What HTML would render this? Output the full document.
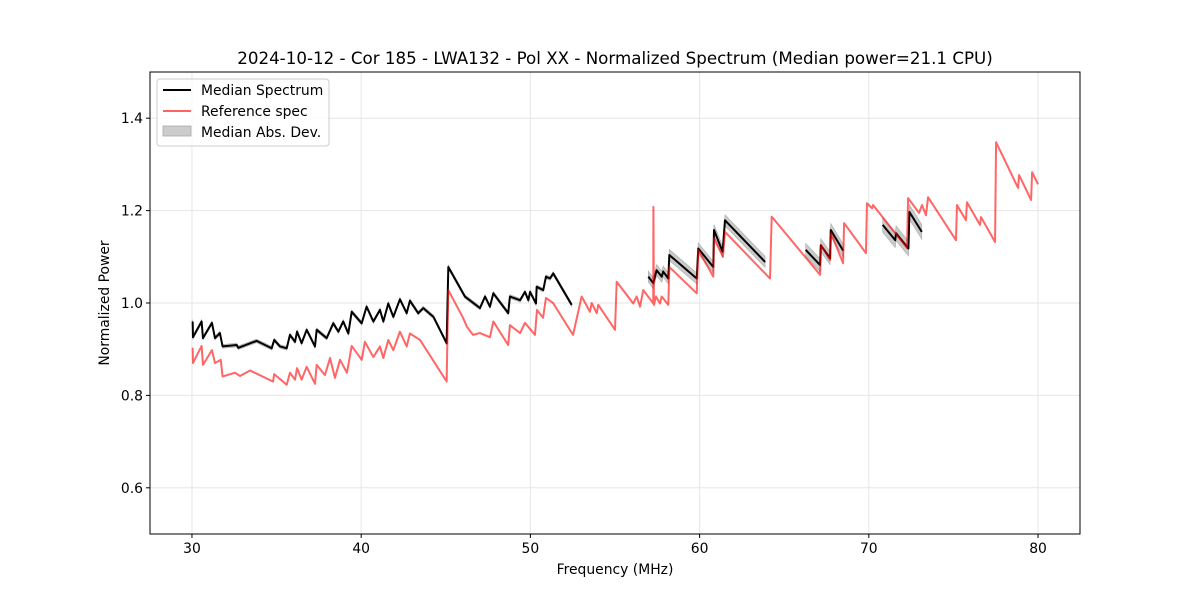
<!DOCTYPE html>
<html><head><meta charset="utf-8"><style>
body{margin:0;background:#fff;}
svg{display:block;font-family:"DejaVu Sans","Liberation Sans",sans-serif;}
</style></head><body>
<svg id="chart" width="1200" height="600" viewBox="0 0 1200 600" xmlns="http://www.w3.org/2000/svg">
<rect x="0" y="0" width="1200" height="600" fill="#fff"/>
<text x="615" y="64" font-size="16.7" text-anchor="middle" fill="#000">2024-10-12 - Cor 185 - LWA132 - Pol XX - Normalized Spectrum (Median power=21.1 CPU)</text>
<g id="grid"></g>
<g id="plot"></g>
<rect x="150" y="72" width="930" height="462" fill="none" stroke="#000" stroke-width="1"/>
<g id="xticks"></g>
<g id="yticks"></g>
<text x="615" y="574" font-size="13.9" text-anchor="middle">Frequency (MHz)</text>
<text transform="translate(109,303) rotate(-90)" font-size="13.9" text-anchor="middle">Normalized Power</text>
<g>
<rect x="157" y="79" width="172" height="67" rx="3" fill="#fff" fill-opacity="0.8" stroke="#ccc"/>
<line x1="163" y1="90" x2="191" y2="90" stroke="#000" stroke-width="2"/>
<text x="201" y="95" font-size="13.9">Median Spectrum</text>
<line x1="163" y1="111" x2="191" y2="111" stroke="#ff6262" stroke-width="2"/>
<text x="201" y="116" font-size="13.9">Reference spec</text>
<rect x="163" y="126" width="28" height="10" fill="#cccccc" stroke="#aaa" stroke-width="0.8"/>
<text x="201" y="137" font-size="13.9">Median Abs. Dev.</text>
</g>
</svg>
<script>
const xTicks=[30,40,50,60,70,80];
const yTicks=[0.6,0.8,1.0,1.2,1.4];
const yTickLabels=["0.6","0.8","1.0","1.2","1.4"];
const refFreq=[30.04,30.06,30.57,30.65,31.18,31.36,31.70,31.81,32.54,32.84,33.43,34.79,34.86,35.60,35.79,36.09,36.21,36.48,36.78,37.27,37.37,37.86,38.16,38.45,38.75,39.16,39.44,40.03,40.22,40.72,41.11,41.31,41.60,41.90,42.29,42.69,42.88,43.48,45.05,45.15,46.02,46.24,46.61,47.02,47.61,47.81,48.69,48.79,49.39,49.68,50.27,50.39,50.75,50.92,51.34,52.52,53.03,53.52,53.62,53.92,54.01,55.00,55.10,56.08,56.28,56.48,56.67,57.26,57.27,57.30,57.42,57.66,57.76,58.15,58.21,59.83,59.92,60.81,60.85,61.38,61.50,64.16,64.26,67.12,67.18,67.71,67.77,68.48,68.54,69.83,69.89,70.19,70.25,72.26,72.32,72.97,73.14,73.38,73.50,75.15,75.21,75.74,75.80,76.57,76.63,77.46,77.52,78.82,78.88,79.59,79.65,80.00];
const refVals=[0.903,0.870,0.907,0.866,0.898,0.870,0.877,0.841,0.849,0.842,0.854,0.830,0.846,0.823,0.849,0.834,0.859,0.834,0.862,0.825,0.866,0.844,0.881,0.838,0.877,0.849,0.907,0.877,0.916,0.883,0.906,0.881,0.920,0.898,0.938,0.906,0.934,0.920,0.830,1.028,0.968,0.949,0.931,0.935,0.926,0.960,0.909,0.952,0.935,0.957,0.931,0.985,0.968,1.011,1.000,0.931,1.014,0.981,1.000,0.978,0.996,0.942,1.046,0.999,1.014,0.992,1.028,0.999,1.208,0.996,1.014,0.999,1.014,0.996,1.078,1.021,1.115,1.057,1.140,1.100,1.154,1.053,1.187,1.061,1.125,1.093,1.151,1.086,1.173,1.108,1.216,1.205,1.212,1.119,1.227,1.195,1.212,1.190,1.229,1.136,1.212,1.179,1.218,1.169,1.186,1.132,1.348,1.249,1.277,1.223,1.283,1.257];
const medFreq1=[30.04,30.06,30.57,30.65,31.18,31.36,31.65,31.81,32.64,32.74,33.82,34.71,34.86,35.20,35.60,35.79,36.09,36.21,36.48,36.78,37.27,37.37,37.96,38.35,38.65,38.94,39.24,39.44,40.03,40.32,40.72,41.11,41.31,41.60,41.90,42.29,42.69,42.88,43.37,43.67,44.27,45.05,45.15,46.13,47.02,47.32,47.61,47.81,48.69,48.79,49.39,49.68,49.88,49.98,50.33,50.37,50.76,50.92,51.16,51.35,52.44];
const medVals1=[0.960,0.926,0.960,0.924,0.957,0.924,0.935,0.906,0.909,0.903,0.918,0.902,0.920,0.906,0.902,0.931,0.916,0.938,0.913,0.942,0.906,0.942,0.924,0.956,0.938,0.960,0.934,0.981,0.956,0.992,0.960,0.985,0.960,0.999,0.970,1.008,0.978,1.005,0.978,0.989,0.970,0.913,1.078,1.014,0.989,1.014,0.992,1.021,0.978,1.014,1.006,1.024,1.006,1.024,0.999,1.035,1.028,1.057,1.053,1.064,0.996];
const medFreq2=[56.97,57.26,57.46,57.76,57.85,58.15,58.21,59.83,59.92,60.81,60.85,61.36,61.50,63.87];
const medVals2=[1.057,1.043,1.071,1.057,1.068,1.053,1.104,1.053,1.118,1.078,1.158,1.111,1.179,1.089];
const medFreq3=[66.27,67.12,67.16,67.71,67.75,68.49];
const medVals3=[1.115,1.082,1.125,1.097,1.158,1.113];
const medFreq4=[70.82,71.56,71.61,72.34,72.40,73.13];
const medVals4=[1.169,1.136,1.151,1.118,1.197,1.154];
const madBySegment=[0.004,0.012,0.014,0.016];

const X0=150,X1=1080,Y0=534,Y1=72,xmin=27.52,xmax=82.48,ymin=0.5,ymax=1.5;
const sx=f=>X0+(f-xmin)/(xmax-xmin)*(X1-X0);
const sy=v=>Y0-(v-ymin)/(ymax-ymin)*(Y0-Y1);
const NS="http://www.w3.org/2000/svg";
function mk(tag,parent,attrs){const e=document.createElementNS(NS,tag);for(const k in attrs)e.setAttribute(k,attrs[k]);parent.appendChild(e);return e;}
const grid=document.getElementById('grid'),plot=document.getElementById('plot'),xg=document.getElementById('xticks'),yg=document.getElementById('yticks');
xTicks.forEach(t=>{const x=sx(t);
 const g=mk('line',grid,{x1:x,x2:x,y1:Y1,y2:Y0,stroke:'#e6e6e6','stroke-width':1});
 
 const tk=mk('line',xg,{x1:x,x2:x,y1:Y0,y2:Y0+4,stroke:'#000'});
 
 const tx=mk('text',xg,{x:x,y:Y0+19,'font-size':13.9,'text-anchor':'middle'});tx.textContent=t;
 });
yTicks.forEach((t,i)=>{const y=sy(t);
 const g=mk('line',grid,{x1:X0,x2:X1,y1:y,y2:y,stroke:'#e6e6e6','stroke-width':1});
 
 const tk=mk('line',yg,{x1:X0-4,x2:X0,y1:y,y2:y,stroke:'#000'});
 
 const tx=mk('text',yg,{x:X0-7,y:y+5,'font-size':13.9,'text-anchor':'end'});tx.textContent=yTickLabels[i];
 });
const segs=[[medFreq1,medVals1],[medFreq2,medVals2],[medFreq3,medVals3],[medFreq4,medVals4]];
segs.forEach((s,i)=>{const m=madBySegment[i];
 const up=s[0].map((f,j)=>sx(f)+','+sy(s[1][j]+m));
 const dn=s[0].map((f,j)=>sx(f)+','+sy(s[1][j]-m)).reverse();
 const p=mk('polygon',plot,{points:up.concat(dn).join(' '),fill:'#bbbbbb','fill-opacity':0.8,stroke:'#aaa','stroke-width':0.6});
 });
segs.forEach(s=>{
 const p=mk('polyline',plot,{points:s[0].map((f,j)=>sx(f)+','+sy(s[1][j])).join(' '),fill:'none',stroke:'#000','stroke-width':2,'stroke-linejoin':'round'});
 });
const r=mk('polyline',plot,{points:refFreq.map((f,j)=>sx(f)+','+sy(refVals[j])).join(' '),fill:'none',stroke:'#ff0000','stroke-opacity':0.6,'stroke-width':2,'stroke-linejoin':'round'});

</script>
</body></html>
